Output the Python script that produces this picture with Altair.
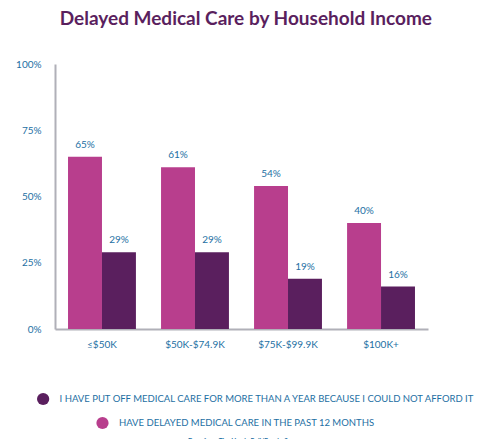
import altair as alt
import pandas as pd

incomes = ["≤$50K", "$50K-$74.9K", "$75K-$99.9K", "$100K+"]
delayed = [65, 61, 54, 40]
put_off = [29, 29, 19, 16]
series = ["HAVE DELAYED MEDICAL CARE IN THE PAST 12 MONTHS",
          "I HAVE PUT OFF MEDICAL CARE FOR MORE THAN A YEAR BECAUSE I COULD NOT AFFORD IT"]
colors = ["#B83E8D", "#5A1F5E"]
blue = "#1D6FA3"

rows = []
for i, inc in enumerate(incomes):
    rows.append({"income": inc, "series": series[0], "order": 0, "value": delayed[i]})
    rows.append({"income": inc, "series": series[1], "order": 1, "value": put_off[i]})
df = pd.DataFrame(rows)
df["label"] = df["value"].astype(str) + "%"

x = alt.X("income:N", sort=incomes, title=None,
          scale=alt.Scale(paddingInner=0.27, paddingOuter=0.14),
          axis=alt.Axis(labelAngle=0, labelColor=blue, labelFontSize=10, ticks=False,
                        labelPadding=10, domainColor="#b0b0b8", domainWidth=2, labelFont="Lato"))
xo = alt.XOffset("order:O", scale=alt.Scale(paddingInner=0))
y = alt.Y("value:Q", title=None, scale=alt.Scale(domain=[0, 100]),
          axis=alt.Axis(values=[0, 25, 50, 75, 100], format="d", labelExpr="datum.value + '%'",
                        grid=False, ticks=False, labelColor=blue, labelFontSize=10,
                        labelPadding=14, domainColor="#b0b0b8", domainWidth=2, labelFont="Lato"))
color = alt.Color("series:N", scale=alt.Scale(domain=series, range=colors), legend=None)

base = alt.Chart(df).encode(x=x, xOffset=xo, y=y)
bars = base.mark_bar().encode(color=color)
labels = base.mark_text(dy=-12, fontSize=10, color=blue, font="Lato").encode(text="label:N")
main = (bars + labels).properties(width=373, height=265)

leg = pd.DataFrame({"series": [series[1], series[0]], "row": [0, 1],
                    "px": [-13, 52], "tx": [5, 70]})
legbase = alt.Chart(leg)
dots = legbase.mark_circle(size=150, opacity=1).encode(
    x=alt.X("px:Q", scale=alt.Scale(domain=[0, 460]), axis=None),
    y=alt.Y("row:O", axis=None, scale=alt.Scale(paddingOuter=0.3)),
    color=alt.Color("series:N", scale=alt.Scale(domain=series, range=colors), legend=None))
texts = legbase.mark_text(align="left", fontSize=9.5, color=blue, font="Lato").encode(
    x=alt.X("tx:Q", scale=alt.Scale(domain=[0, 460]), axis=None),
    y=alt.Y("row:O", axis=None, scale=alt.Scale(paddingOuter=0.3)),
    text="series:N")
source = alt.Chart(pd.DataFrame({"t": ["Data from The Harris Poll/Earnin Survey"]})).mark_text(
    fontSize=6.5, color=blue, font="Lato", fontWeight="bold").encode(
    x=alt.value(191), y=alt.value(5), text="t:N").properties(width=420, height=10)
legend = (dots + texts).properties(width=420, height=48)

chart = alt.vconcat(main, alt.vconcat(legend, source, spacing=2), spacing=38, center=False).properties(
    title=alt.TitleParams("Delayed Medical Care by Household Income", fontSize=19, color="#5A1F5E",
                          font="Lato", fontWeight="bold", anchor="middle", offset=30),
    padding={"left": 7, "top": 2, "right": 0, "bottom": 0},
).configure_view(stroke=None)

chart.save("out.html", embed_options={"renderer": "svg", "actions": False})
